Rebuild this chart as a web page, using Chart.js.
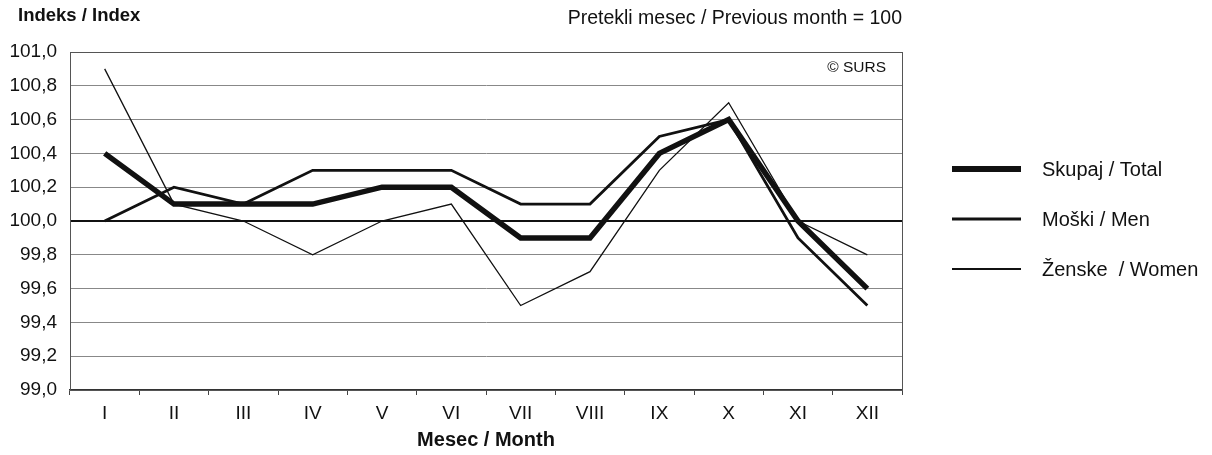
<!DOCTYPE html>
<html><head><meta charset="utf-8">
<script src="https://cdn.jsdelivr.net/npm/chart.js@4.4.1/dist/chart.umd.min.js"></script>
<style>html,body{margin:0;padding:0;background:#fff}#wrap{width:1212px;height:455px}</style>
</head><body><div id="wrap"><canvas id="c" width="1212" height="455"></canvas></div>
<script>
const months = ["I","II","III","IV","V","VI","VII","VIII","IX","X","XI","XII"];
const total = [100.4,100.1,100.1,100.1,100.2,100.2,99.9,99.9,100.4,100.6,100.0,99.6];
const men   = [100.0,100.2,100.1,100.3,100.3,100.3,100.1,100.1,100.5,100.6,99.9,99.5];
const women = [100.9,100.1,100.0,99.8,100.0,100.1,99.5,99.7,100.3,100.7,100.0,99.8];
const seriesNames = ["Skupaj / Total","Moški / Men","Ženske  / Women"];
const yTicks = [99.0,99.2,99.4,99.6,99.8,100.0,100.2,100.4,100.6,100.8,101.0];

const FONT = "'Liberation Sans', Arial, sans-serif";
const widths = [5.5, 2.8, 1.3];
const legendWidths = [6, 3, 1.8];

const deco = {
  id: 'deco',
  beforeDatasetsDraw(chart) {
    const {ctx, chartArea: a} = chart;
    ctx.save();
    ctx.strokeStyle = '#555';
    ctx.lineWidth = 1;
    ctx.strokeRect(a.left + 0.5, a.top + 0.5, a.right - a.left, a.bottom - a.top);
    ctx.restore();
  },
  afterDraw(chart) {
    const {ctx, chartArea: a} = chart;
    ctx.save();
    ctx.fillStyle = '#111';
    ctx.textBaseline = 'middle';
    ctx.font = 'bold 18.5px ' + FONT;
    ctx.textAlign = 'left';
    ctx.fillText('Indeks / Index', 18, 16);
    ctx.font = '19.5px ' + FONT;
    ctx.textAlign = 'right';
    ctx.fillText('Pretekli mesec / Previous month = 100', a.right, 19);
    ctx.font = '15.5px ' + FONT;
    ctx.fillText('© SURS', a.right - 16, 68);
    // legend
    const ys = [170, 220, 270];
    ctx.textAlign = 'left';
    ctx.font = '20px ' + FONT;
    chart.data.datasets.forEach((ds, i) => {
      ctx.strokeStyle = '#111';
      ctx.lineWidth = legendWidths[i];
      ctx.beginPath();
      ctx.moveTo(952, ys[i] - 1);
      ctx.lineTo(1021, ys[i] - 1);
      ctx.stroke();
      ctx.fillText(ds.label, 1042, ys[i]);
    });
    ctx.restore();
  }
};

new Chart(document.getElementById('c'), {
  type: 'line',
  data: {
    labels: months,
    datasets: [
      {label: seriesNames[0], data: total, borderColor: '#111', borderWidth: widths[0], pointRadius: 0, tension: 0},
      {label: seriesNames[1], data: men, borderColor: '#111', borderWidth: widths[1], pointRadius: 0, tension: 0},
      {label: seriesNames[2], data: women, borderColor: '#111', borderWidth: widths[2], pointRadius: 0, tension: 0}
    ]
  },
  options: {
    responsive: false,
    animation: false,
    devicePixelRatio: 1,
    layout: {padding: {left: 0, right: 310, top: 52, bottom: 0}},
    plugins: {legend: {display: false}, tooltip: {enabled: false}},
    scales: {
      x: {
        offset: true,
        grid: {offset: true, drawOnChartArea: false, color: '#444', tickLength: 5, tickWidth: 1},
        border: {display: true, color: '#333', width: 1.5},
        ticks: {color: '#111', font: {family: FONT, size: 19}, padding: 7, maxRotation: 0},
        title: {display: true, text: 'Mesec / Month', color: '#111', font: {family: FONT, size: 20, weight: 'bold'}, padding: {top: 0, bottom: 3}},
        afterFit(s) { s.height = 65; }
      },
      y: {
        min: 99, max: 101,
        afterBuildTicks(s) { s.ticks = yTicks.map(v => ({value: v})); },
        grid: {
          drawTicks: false,
          color: ctx => (ctx.tick && Math.abs(ctx.tick.value - 100) < 1e-6) ? '#111' : '#888',
          lineWidth: ctx => (ctx.tick && Math.abs(ctx.tick.value - 100) < 1e-6) ? 2 : 1
        },
        border: {display: true, color: '#444', width: 1},
        ticks: {
          color: '#111', font: {family: FONT, size: 19}, padding: 13,
          callback: v => Number(v).toFixed(1).replace('.', ',')
        },
        afterFit(s) { s.width = 70; }
      }
    }
  },
  plugins: [deco]
});
</script>
</body></html>
